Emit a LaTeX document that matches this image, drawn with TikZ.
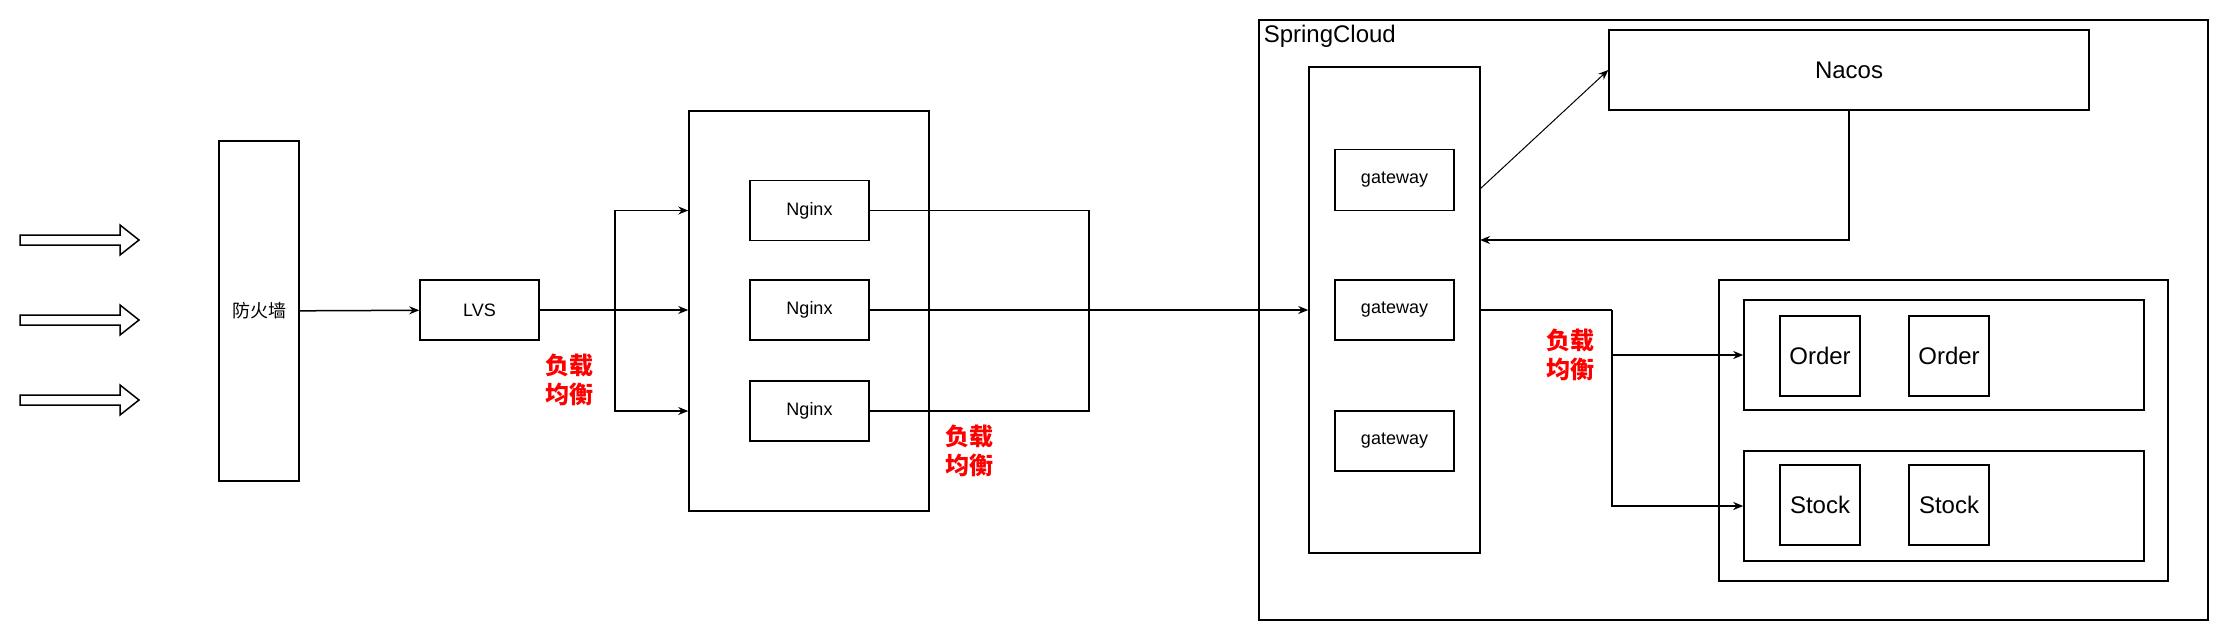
\documentclass[tikz,border=0pt]{standalone}
\usepackage{fontspec}
\setmainfont{Liberation Sans}
\newfontfamily\cjk{Noto Sans CJK SC}
\usetikzlibrary{arrows.meta}
\usetikzlibrary{calc}
\tikzset{
  box/.style={draw,fill=white,inner sep=0pt,font=\fontsize{18}{22}\selectfont},
  bigbox/.style={box,font=\fontsize{24}{29}\selectfont},
  frame/.style={draw,inner sep=0pt},
  lb/.style={text=red,align=center,inner sep=0pt,font=\cjk\bfseries\fontsize{24}{29}\selectfont},
  link/.style={-{Stealth[length=10pt,width=8pt]}},
}

\begin{document}
\begin{tikzpicture}[x=1pt,y=-1pt,line width=1.5pt]
    \useasboundingbox (0,0) rectangle (2231,641);
    % Incoming traffic
    \foreach \y in {240,320,400}
      \draw (20,\y-5) -- (120,\y-5) -- (120,\y-15) -- (139,\y)
        -- (120,\y+15) -- (120,\y+5) -- (20,\y+5) -- cycle;
    % Outer frames
    \node[frame,minimum width=240pt,minimum height=400pt] (ngxgrp) at (809,311) {};
    \node[frame,minimum width=949pt,minimum height=600pt] (cloud) at (1733.5,320) {};
    \node[anchor=base west,inner sep=0pt,font=\fontsize{24}{29}\selectfont] (cloudlbl) at (1263,42) {SpringCloud};
    \node[frame,minimum width=171pt,minimum height=486pt] (gwgrp) at (1394.5,310) {};
    \node[frame,minimum width=449pt,minimum height=301pt] (svc) at (1943.5,430.5) {};
    \node[frame,minimum width=400pt,minimum height=110pt] (ordgrp) at (1944,355) {};
    \node[frame,minimum width=400pt,minimum height=110pt] (stkgrp) at (1944,506) {};
    % Boxes
    \node[box,minimum width=80pt,minimum height=340pt] (fw) at (259,311) {\cjk 防火墙};
    \node[box,minimum width=119pt,minimum height=60pt] (lvs) at (479.5,310) {LVS};
    \node[box,minimum width=119pt,minimum height=60pt] (ngx1) at (809.5,210.5) {Nginx};
    \node[box,minimum width=119pt,minimum height=60pt] (ngx2) at (809.5,310) {Nginx};
    \node[box,minimum width=119pt,minimum height=60pt] (ngx3) at (809.5,411) {Nginx};
    \node[box,minimum width=119pt,minimum height=61pt] (gw1) at (1394.5,180) {gateway};
    \node[box,minimum width=119pt,minimum height=60pt] (gw2) at (1394.5,310) {gateway};
    \node[box,minimum width=119pt,minimum height=60pt] (gw3) at (1394.5,441) {gateway};
    \node[bigbox,minimum width=480pt,minimum height=80pt] (nacos) at (1849,70) {Nacos};
    \node[bigbox,minimum width=80pt,minimum height=80pt] (ord1) at (1820,356) {Order};
    \node[bigbox,minimum width=80pt,minimum height=80pt] (ord2) at (1949,356) {Order};
    \node[bigbox,minimum width=80pt,minimum height=80pt] (stk1) at (1820,505) {Stock};
    \node[bigbox,minimum width=80pt,minimum height=80pt] (stk2) at (1949,505) {Stock};
    % Load balancing labels
    \node[lb] (lb1) at (569,380) {负载\\均衡};
    \node[lb] (lb2) at (969,451) {负载\\均衡};
    \node[lb] (lb3) at (1570,355) {负载\\均衡};
    % Wires
    \coordinate (split1) at (615,310);
    \coordinate (merge) at (1089,310);
    \coordinate (split3) at (1612,310);
    \coordinate (reg) at (1480,189);
    \coordinate (ret) at (1480,240);
    \draw[link] (fw) -- (lvs);
    \draw (lvs.east) -- (split1);
    \draw[link] (split1) |- (ngxgrp.west |- ngx1);
    \draw[link] (split1) -- (ngxgrp.west |- ngx2);
    \draw[link] (split1) |- (ngxgrp.west |- ngx3);
    \draw (ngx1.east) -| (merge);
    \draw (ngx3.east) -| (merge);
    \draw[link] (ngx2.east) -- (gwgrp.west |- ngx2);
    \draw[link,line width=1pt] (reg) -- (nacos.west);
    \draw[link] (nacos.south) |- (ret);
    \draw (gwgrp.east |- gw2) -- (split3);
    \draw[link] (split3) |- (ordgrp.west);
    \draw[link] (split3) |- (stkgrp.west);
\end{tikzpicture}
\end{document}
